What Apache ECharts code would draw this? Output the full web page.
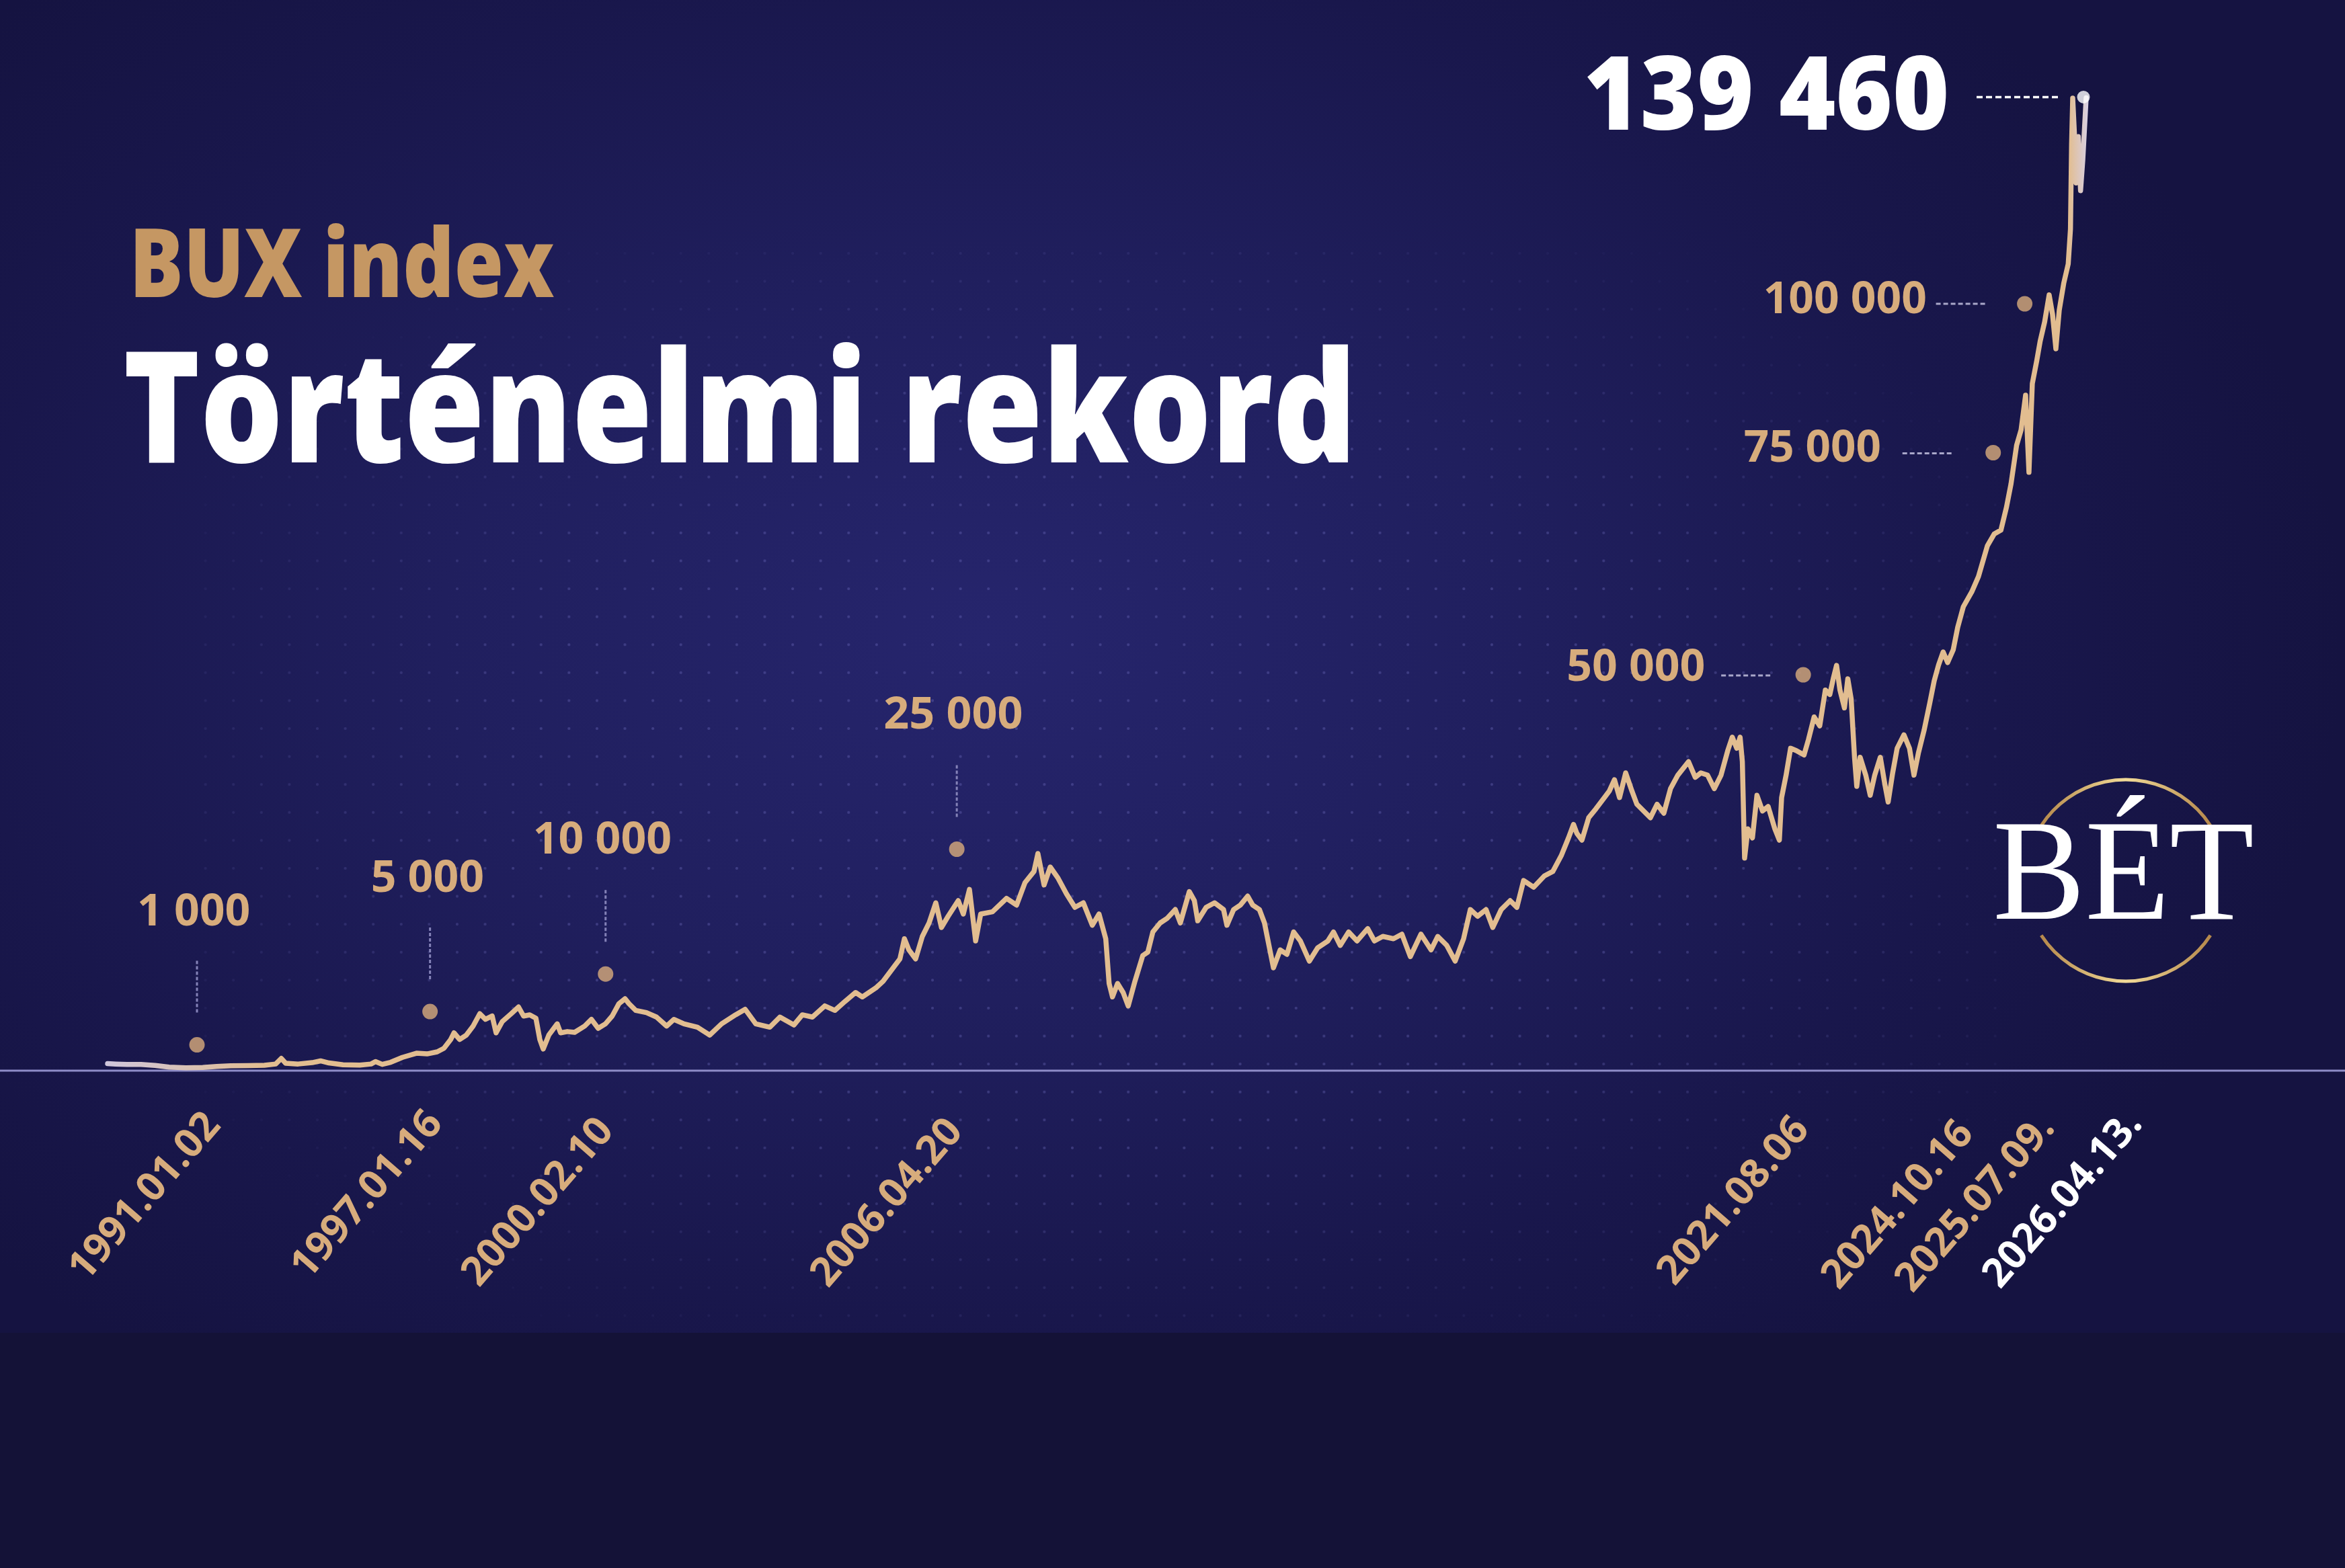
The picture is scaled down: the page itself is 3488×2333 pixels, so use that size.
<!DOCTYPE html>
<html>
<head>
<meta charset="utf-8">
<script src="https://cdn.jsdelivr.net/npm/echarts@6/dist/echarts.min.js"></script>
<style>
html,body{margin:0;padding:0;width:3488px;height:2333px;overflow:hidden;background:#141237;}
#panel{position:absolute;left:0;top:0;width:3488px;height:1983px;
  background:radial-gradient(ellipse 58% 68% at 42% 48%, #26256d 0%, #201f5e 40%, #19174c 75%, #151341 100%);}
#dots{position:absolute;left:300px;top:365px;width:2700px;height:1618px;
  background-image:radial-gradient(circle, rgba(128,126,210,0.30) 1.7px, transparent 2.4px);
  background-size:41.6px 41.6px;background-position:-15.2px -8.9px;
  -webkit-mask-image:radial-gradient(ellipse 60% 60% at 50% 50%, #000 55%, transparent 100%);
  mask-image:radial-gradient(ellipse 60% 60% at 50% 50%, #000 55%, transparent 100%);}
#chart{position:absolute;left:0;top:0;width:3488px;height:2333px;}
</style>
</head>
<body>
<div id="panel"></div>
<div id="dots"></div>
<div id="chart"></div>
<script>
// ---------------- DATA ----------------
// time in decimal years
const years = [
1991.003,1991.15,1991.35,1991.60,1991.85,1992.10,1992.40,1992.70,1992.95,1993.20,1993.50,1993.80,
1994.00,1994.10,1994.18,1994.40,1994.65,1994.80,1994.95,1995.20,1995.50,1995.70,1995.78,1995.90,
1996.05,1996.26,1996.51,1996.70,1996.88,1997.00,1997.12,1997.18,1997.28,1997.40,1997.52,1997.64,
1997.74,1997.86,1997.93,1998.04,1998.20,1998.33,1998.42,1998.53,1998.64,1998.71,1998.77,1998.87,
1999.02,1999.08,1999.20,1999.33,1999.51,1999.63,1999.75,1999.88,2000.00,2000.12,2000.23,
2000.30,2000.42,2000.61,2000.79,2000.97,2001.10,2001.28,2001.52,2001.74,2001.95,2002.20,2002.37,
2002.56,2002.81,2002.99,2003.24,2003.39,2003.57,2003.79,2003.97,2004.15,2004.34,2004.46,2004.70,
2004.83,2005.01,2005.13,2005.21,2005.29,2005.41,2005.53,2005.65,2005.77,2005.87,2005.99,2006.17,
2006.26,2006.37,2006.48,2006.57,2006.78,2007.03,2007.21,2007.36,2007.52,2007.59,2007.70,2007.81,
2007.95,2008.10,2008.25,2008.40,2008.56,2008.68,2008.80,2008.86,2008.92,2009.01,2009.11,2009.20,
2009.32,2009.46,
2009.55,2009.64,2009.77,2009.89,2010.04,2010.13,2010.29,2010.38,2010.44,2010.59,2010.74,2010.90,
2010.96,2011.08,2011.20,2011.33,2011.42,2011.54,2011.63,2011.71,2011.79,2011.91,2012.03,2012.15,
2012.27,2012.43,2012.58,2012.76,2012.86,2012.98,2013.13,2013.28,2013.47,2013.59,2013.74,2013.93,
2014.08,2014.23,2014.42,2014.60,2014.72,2014.88,2015.03,2015.18,2015.30,2015.43,2015.58,2015.70,
2015.85,2016.01,2016.13,2016.25,2016.43,2016.62,2016.77,2016.92,2017.05,2017.14,2017.20,2017.29,
2017.41,2017.54,2017.69,2017.78,2017.87,2017.96,2018.07,2018.18,2018.27,2018.39,2018.51,2018.63,
2018.75,2018.87,2019.00,
2019.19,2019.31,2019.41,2019.53,2019.65,2019.77,2019.89,2019.97,2020.05,2020.11,2020.15,2020.19,
2020.25,2020.33,2020.41,2020.51,2020.61,2020.73,2020.81,2020.85,2020.93,2021.01,2021.11,2021.25,
2021.33,2021.43,2021.53,2021.63,2021.71,2021.77,2021.83,2021.89,2021.97,2022.03,2022.09,2022.15,
2022.19,2022.25,2022.35,2022.43,2022.51,2022.61,2022.69,2022.75,2022.83,2022.91,2023.03,2023.13,
2023.21,2023.29,2023.39,2023.49,2023.57,
2023.65,2023.73,2023.81,2023.91,2023.99,2024.09,2024.24,2024.36,2024.52,2024.64,2024.76,2024.86,
2024.94,2025.04,2025.12,2025.20,2025.26,2025.32,2025.40,2025.46,2025.54,2025.62,2025.68,2025.74,
2025.80,2025.88,2025.96,2026.00,2026.02,2026.04,2026.08,2026.10,2026.14,2026.18,2026.22,2026.28
];
const values = [
1000,950,900,880,750,500,420,450,600,700,720,780,
950,1750,1050,950,1150,1400,1100,850,800,950,1300,900,
1200,1900,2500,2400,2700,3200,4460,5420,4460,5100,6390,8160,
7350,7830,5420,7030,8160,9120,7830,8000,7510,4460,3100,5100,
6710,5420,5600,5490,6390,7350,6070,6710,7830,9600,10310,
9600,8640,8320,7680,6390,7350,6710,6230,5100,6710,8000,8800,
6710,6230,7680,6550,8000,7680,9280,8640,9920,11200,10570,11850,
12810,14740,16020,18910,17310,16020,19240,21170,24060,20520,22130,24370,
22450,25980,18590,22450,22770,24690,23730,26950,28550,31120,26620,29190,
27580,25340,23410,24060,20840,22450,18910,12490,10570,12490,11200,9280,
12810,16500,
16990,19880,21170,21800,23090,21170,25660,24370,21480,23410,24060,23090,
20840,23090,23730,25020,23730,23090,21170,17950,14740,17310,16670,19880,
18590,15700,17630,18590,19880,17950,19880,18590,20360,18590,19240,18910,
19560,16350,19560,17310,19240,17950,15700,18910,23090,22130,23090,20520,
23090,24370,23410,27260,26300,27910,28550,30800,33360,35290,34010,33040,
36250,37540,39140,40110,41710,39140,42680,40110,38180,37220,36250,38180,
36900,40430,42360,
44290,42040,42680,42360,40430,42360,45890,47810,46210,47810,44290,30470,
34650,33360,39470,37220,37860,34650,33040,39140,42360,46210,45890,45250,
47500,50700,49420,54560,53920,56170,58090,54560,52000,56170,53280,44920,
40750,44920,42360,39470,42360,44920,41070,38510,42680,46210,48140,46210,
42360,45570,48780,52630,55850,
58200,60020,58500,60340,63560,66500,68620,70840,75260,76920,77470,80790,
84100,89640,91850,96820,85760,98490,101800,104570,107330,111200,108440,103470,
108990,112860,115630,120610,132780,139400,132780,127240,133880,126140,130560,139460
];

// milestones (threshold first reached / record)
const milestoneYears  = [1991.003, 1997.04, 2000.11, 2006.30, 2021.595, 2024.79, 2025.52, 2026.28];
const milestoneValues = [1000, 5000, 10000, 25000, 50000, 75000, 100000, 139460];
const milestoneLabels = ['1 000', '5 000', '10 000', '25 000', '50 000', '75 000', '100 000', '139 460'];
const dateLabels      = ['1991.01.02', '1997.01.16', '2000.02.10', '2006.04.20', '2021.08.06', '2024.10.16', '2025.07.09.', '2026.04.13.'];

const titleSmall = 'BUX index';
const titleBig   = 'Történelmi rekord';
const logoText   = 'BÉT';

// ---------------- STYLE (positions / looks) ----------------
const TAN = '#E2BD90', LABEL_TAN = '#D7AC7C', TITLE_TAN = '#C59763';
// dot offset from its data point, px
const dotStyle = [
  {off:[133,-28],  size:23, color:'#D9AD7C'},
  {off:[-24,-36],  size:23, color:'#D9AD7C'},
  {off:[-19,-40],  size:23, color:'#D9AD7C'},
  {off:[-13,-70],  size:23, color:'#D9AD7C'},
  {off:[-30,-70],  size:23, color:'#D9AD7C'},
  {off:[-14,-141], size:23, color:'#D9AD7C'},
  {off:[-28,-103], size:23, color:'#D9AD7C'},
  {off:[-4,-1],    size:19, color:'#FFFFFF'}
];
// label placement relative to dot: ink left dx, ink width, middle dy, font
const labelStyle = [
  {dx:-86,  w:163, dy:-197, fs:67, color:LABEL_TAN, dash:'v'},
  {dx:-85,  w:163, dy:-197, fs:67, color:LABEL_TAN, dash:'v'},
  {dx:-105, w:201, dy:-198, fs:67, color:LABEL_TAN, dash:'v'},
  {dx:-107, w:203, dy:-199, fs:67, color:LABEL_TAN, dash:'v'},
  {dx:-349, w:201, dy:-10,  fs:67, color:LABEL_TAN, dash:[-122,-46,1]},
  {dx:-370, w:201, dy:-6,   fs:67, color:LABEL_TAN, dash:[-135,-59,1]},
  {dx:-386, w:238, dy:-5,   fs:67, color:LABEL_TAN, dash:[-132,-57,0]},
  {dx:-738, w:534, dy:5,    fs:153, color:'#FFFFFF', dash:[-159,-38,0], weight:800}
];
// date label centre relative to (date, 0) pixel
const dateStyle = [
  [56,188],[-117,185],[-119,196],[-116,197],[-133,194],[-155,200],[-101,198],[-34,192]
];

const chart = echarts.init(document.getElementById('chart'), null, {renderer:'canvas', width:3488, height:2333});

const option = {
  backgroundColor: 'transparent',
  animation: false,
  grid: {left:160, right:385, top:36, bottom:740},
  xAxis: {type:'value', min:1991.003, max:2026.28, show:false},
  yAxis: {type:'value', min:0, max:150000, show:false},
  series: [
    {
      type:'line', name:'BUX',
      data: years.map((t,i)=>[t, values[i]]),
      showSymbol:false, symbol:'none', z:3,
      lineStyle:{width:7.5, join:'round', cap:'round',
        color:{type:'linear', x:0, y:0, x2:1, y2:0, colorStops:[
          {offset:0, color:'#CFC6DC'}, {offset:0.08, color:TAN},
          {offset:0.99, color:TAN}, {offset:1, color:'#D8D0E6'}]}}
    },
    {
      type:'scatter', name:'milestones', z:6,
      data: milestoneYears.map((t,i)=>({
        value:[t, milestoneValues[i]],
        symbolOffset: dotStyle[i].off,
        symbolSize: dotStyle[i].size,
        itemStyle:{color: dotStyle[i].color}
      }))
    }
  ]
};
chart.setOption(option);

// ---------------- annotations ----------------
const mctx = document.createElement('canvas').getContext('2d');
function fitText(text, font, inkLeft, inkWidth, y, color, z){
  mctx.font = font;
  const m = mctx.measureText(text);
  const w = m.actualBoundingBoxLeft + m.actualBoundingBoxRight;
  const s = inkWidth ? inkWidth / w : 1;
  return {type:'text', x: inkLeft + m.actualBoundingBoxLeft * s, y: y, scaleX: s, z: z || 10,
          style:{text:text, font:font, fill:color, align:'left', verticalAlign:'middle'}};
}

const gfx = [];
const p0 = chart.convertToPixel({seriesIndex:0}, [1991.003, 0]);
// axis base line
gfx.push({type:'line', z:1, shape:{x1:0, y1:p0[1], x2:3488, y2:p0[1]},
          style:{stroke:'#8e8cc8', lineWidth:3}});

milestoneYears.forEach((t,i)=>{
  const p = chart.convertToPixel({seriesIndex:1}, [t, milestoneValues[i]]);
  const d = [p[0] + dotStyle[i].off[0], p[1] + dotStyle[i].off[1]];
  const L = labelStyle[i];
  const font = (L.weight || 'bold') + ' ' + L.fs + 'px "Open Sans"';
  gfx.push(fitText(milestoneLabels[i], font, d[0] + L.dx, L.w, d[1] + L.dy, L.color, 10));
  if (L.dash === 'v') {
    gfx.push({type:'line', z:5, shape:{x1:d[0], y1:d[1]-125, x2:d[0], y2:d[1]-46},
              style:{stroke:'#8482b8', lineWidth:3, lineDash:[5,3]}});
  } else {
    const white = i === milestoneYears.length - 1;
    gfx.push({type:'line', z:5, shape:{x1:d[0]+L.dash[0], y1:d[1]+L.dash[2], x2:d[0]+L.dash[1], y2:d[1]+L.dash[2]},
              style:{stroke: white ? '#ffffff' : '#a9a7c9', lineWidth: white ? 3.5 : 3, lineDash: white ? [9,5] : [7,4]}});
  }
  // date label
  const q = chart.convertToPixel({seriesIndex:1}, [t, 0]);
  const white = i === milestoneYears.length - 1;
  gfx.push({type:'text', z:10, x: q[0] + dateStyle[i][0], y: q[1] + dateStyle[i][1],
            rotation: 49 * Math.PI / 180,
            style:{text: dateLabels[i], font:'bold 60px "Open Sans"', fill: white ? '#FFFFFF' : LABEL_TAN,
                   align:'center', verticalAlign:'middle'}});
});

// titles
gfx.push(fitText(titleSmall, '800 142px "Open Sans"', 201, 623, 401.6, TITLE_TAN, 10));
gfx.push(fitText(titleBig, '800 231px "Open Sans"', 187.5, 1818, 622, '#FFFFFF', 10));

// logo
const gold = {type:'linear', x:0, y:0, x2:1, y2:0, colorStops:[
  {offset:0, color:'#B4874A'}, {offset:0.5, color:'#F2DB98'}, {offset:1, color:'#B4874A'}]};
gfx.push({type:'arc', z:9, shape:{cx:3162, cy:1310, r:150, startAngle:213*Math.PI/180, endAngle:327*Math.PI/180, clockwise:true},
          style:{stroke:gold, lineWidth:5, fill:'none'}});
gfx.push({type:'arc', z:9, shape:{cx:3162, cy:1310, r:150, startAngle:33*Math.PI/180, endAngle:147*Math.PI/180, clockwise:true},
          style:{stroke:gold, lineWidth:5, fill:'none'}});
gfx.push(fitText(logoText, '214px "Liberation Serif"', 2970, 380, 1311, '#FFFFFF', 10));

chart.setOption({graphic:{elements:gfx}});
</script>
</body>
</html>
